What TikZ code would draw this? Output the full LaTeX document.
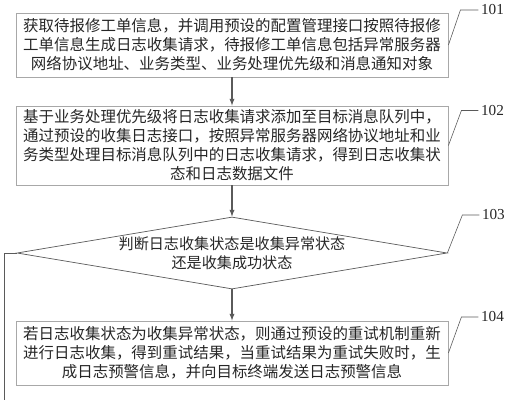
\documentclass[tikz,border=0pt]{standalone}
\usepackage{fontspec}
\setmainfont{Liberation Serif}
\newfontfamily\cjk{Noto Sans CJK SC}
\usepackage{tikz}
\usetikzlibrary{shapes.geometric,positioning,calc}
\definecolor{boxgray}{HTML}{A8A8A8}
\definecolor{linegray}{HTML}{5A5A5A}
\definecolor{txtgray}{HTML}{262626}
\tikzset{
  stepbox/.style={draw=boxgray, line width=0.7pt, minimum width=12.96cm, inner sep=2pt,
    align=center, text=txtgray, font=\cjk\fontsize{13.2}{16.2}\selectfont},
  judgebox/.style={draw=linegray, line width=0.6pt, shape=diamond, inner sep=0pt,
    minimum width=12.9cm, minimum height=2.16cm},
  judgetext/.style={align=center, text=txtgray, font=\cjk\fontsize{12.9}{16.2}\selectfont},
  leader/.style={draw=linegray, line width=0.5pt},
  numlabel/.style={right, inner sep=2pt, text=txtgray, font=\fontsize{13}{13}\selectfont},
}

\begin{document}
\begin{tikzpicture}[x=0.03cm, y=-0.03cm, > = latex]
        \useasboundingbox (0,0) rectangle (511,400);

        \node[stepbox, minimum height=1.92cm] (s101) at (232,45)
          {获取待报修工单信息，并调用预设的配置管理接口按照待报修\\
           工单信息生成日志收集请求，待报修工单信息包括异常服务器\\
           网络协议地址、业务类型、业务处理优先级和消息通知对象};
        \node[stepbox, minimum height=2.37cm] (s102) at (232,145.5)
          {基于业务处理优先级将日志收集请求添加至目标消息队列中，\\
           通过预设的收集日志接口，按照异常服务器网络协议地址和业\\
           务类型处理目标消息队列中的日志收集请求，得到日志收集状\\
           态和日志数据文件};
        \node[judgebox] (s103) at (232,253) {};
        \node[judgetext] (s103txt) at (s103.center)
          {判断日志收集状态是收集异常状态\\还是收集成功状态};
        \node[stepbox, minimum height=1.92cm] (s104) at (232,353)
          {若日志收集状态为收集异常状态，则通过预设的重试机制重新\\
           进行日志收集，得到重试结果，当重试结果为重试失败时，生\\
           成日志预警信息，并向目标终端发送日志预警信息};

        % flow
        \path[draw,line width=1pt,draw=linegray,->] (s101) -- (s102);
        \path[draw,line width=1pt,draw=linegray,->] (s102) -- (s103);
        \path[draw,line width=1pt,draw=linegray,->] (s103) -- (s104);
        \coordinate (noend) at (4,400);
        \path[draw,line width=0.8pt,draw=linegray] (s103.west) -- (noend |- s103.west) -- (noend);

        % step numbers
        \path[leader] (s101.east) -- ++(12,-35) -- ++(18,0) node[numlabel]{101};
        \path[leader] (s102.east) -- ++(13,-35) -- ++(17,0) node[numlabel]{102};
        \path[leader] (s103.east) -- ++(15,-38) -- ++(17,0) node[numlabel]{103};
        \path[leader] (s104.east) -- ++(13,-36) -- ++(17,0) node[numlabel]{104};
\end{tikzpicture}
\end{document}
